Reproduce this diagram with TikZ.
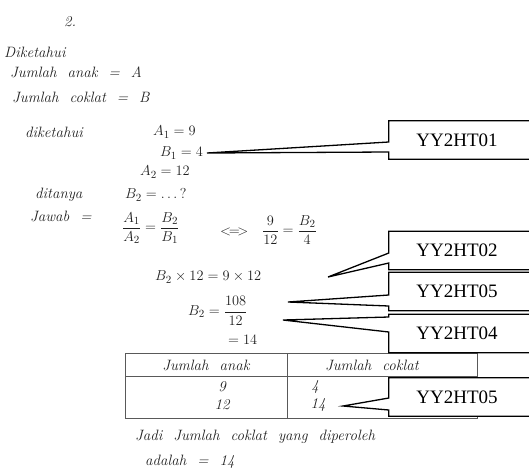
\documentclass[tikz,border=0pt]{standalone}
\usepackage{amsmath}
\usepackage{fontspec}
\newfontfamily\tagfont{Liberation Serif}
\usetikzlibrary{calc,positioning,backgrounds}

\begin{document}
\begin{tikzpicture}[x=1pt,y=-1pt,
	hand/.style={gray!25!black,font={\fontsize{15}{17}\selectfont\itshape\addfontfeature{LetterSpace=20}\spaceskip 11pt\relax},inner sep=0pt,anchor=west},
	tagbox/.style={font=\tagfont\fontsize{19}{21}\selectfont,minimum width=136pt,minimum height=38pt,inner sep=0pt},
	tagline/.style={draw=black,line width=1.3pt,fill=white,line join=miter}]
			
			\useasboundingbox (0,0) rectangle (529,474);
			\clip (0,0) rectangle (529,474);
			
			\node[hand] (nomor) at (64,22) {2.};
			\node[hand] (dik) at (4,52) {Diketahui};
			\node[hand] (janak) at (10,72) {Jumlah anak = A};
			\node[hand] (jcok) at (12,97) {Jumlah coklat = B};
			\node[hand] (dket) at (25,132) {diketahui};
			\node[hand] (aa) at (153,132) {$A_1 = 9$};
			\node[hand] (ba) at (160,153) {$B_1 = 4$};
			\node[hand] (ab) at (140,172) {$A_2 = 12$};
			\node[hand] (dit) at (35,195) {ditanya};
			\node[hand] (bb) at (125,195) {$B_2 = \ldots\,?$};
			\node[hand] (jwb) at (30,216) {Jawab =};
			\node[hand] (fra) at (122,228) {$\dfrac{A_1}{A_2} = \dfrac{B_2}{B_1}$};
			\node[hand] (eqv) at (220,232) {$<\!=\!>$};
			\node[hand] (frb) at (262,230) {$\dfrac{9}{12} = \dfrac{B_2}{4}$};
			\node[hand] (kali) at (155,277) {$B_2 \times 12 = 9 \times 12$};
			\node[hand] (bagi) at (188,311) {$B_2 = \dfrac{108}{12}$};
			\node[hand] (jwbb) at (228,340) {$= 14$};
			
			\node[hand,anchor=center] (hanak) at (206,365) {Jumlah anak};
			\node[hand,anchor=center] (hcok) at (372,365) {Jumlah coklat};
			\node[hand,anchor=center] (anaka) at (222,387) {9};
			\node[hand,anchor=center] (anakb) at (222,405) {12};
			\node[hand,anchor=center] (coka) at (315,387) {4};
			\node[hand,anchor=center] (cokb) at (318,405) {14};
			
			\node[hand] (jadi) at (135,437) {Jadi Jumlah coklat yang diperoleh};
			\node[hand] (adl) at (145,462) {adalah = 14};
			
			\coordinate (ta) at (207,153);
			\coordinate (tb) at (328,277);
			\coordinate (tc) at (288,302);
			\coordinate (td) at (283,320);
			\coordinate (te) at (343,406);
			
			\node[tagbox] (ka) at (457,140) {YY2HT01};
			\node[tagbox] (kb) at (457,250.5) {YY2HT02};
			\node[tagbox] (kc) at (457,291.5) {YY2HT05};
			\node[tagbox] (kd) at (457,333.5) {YY2HT04};
			\node[tagbox] (ke) at (457,397) {YY2HT05};
			
			\begin{pgfonlayer}{background}
			\draw[gray!70!black] (125,353) rectangle (477,418);
			\draw[gray!70!black] (125,376) -- (477,376);
			\draw[gray!70!black] (287,353) -- (287,418);
			
			\draw[tagline] ($(ka.north west)+(200,0)$) -- (ka.north west) -- ($(ka.west)+(0,2)$) -- (ta) -- ($(ka.west)+(0,12)$) -- (ka.south west) -- ($(ka.south west)+(200,0)$);
			\draw[tagline] ($(kb.north west)+(200,0)$) -- (kb.north west) -- ($(kb.west)+(0,2.5)$) -- (tb) -- ($(kb.west)+(0,12.5)$) -- (kb.south west) -- ($(kb.south west)+(200,0)$);
			\draw[tagline] ($(kc.north west)+(200,0)$) -- (kc.north west) -- ($(kc.west)+(0,3.5)$) -- (tc) -- ($(kc.west)+(0,14.5)$) -- (kc.south west) -- ($(kc.south west)+(200,0)$);
			\draw[tagline] ($(kd.north west)+(200,0)$) -- (kd.north west) -- ($(kd.west)+(0,-16.5)$) -- (td) -- ($(kd.west)+(0,-1.5)$) -- (kd.south west) -- ($(kd.south west)+(200,0)$);
			\draw[tagline] ($(ke.north west)+(200,0)$) -- (ke.north west) -- ($(ke.west)+(0,1)$) -- (te) -- ($(ke.west)+(0,13)$) -- (ke.south west) -- ($(ke.south west)+(200,0)$);
			\end{pgfonlayer}
			
		\end{tikzpicture}
\end{document}
